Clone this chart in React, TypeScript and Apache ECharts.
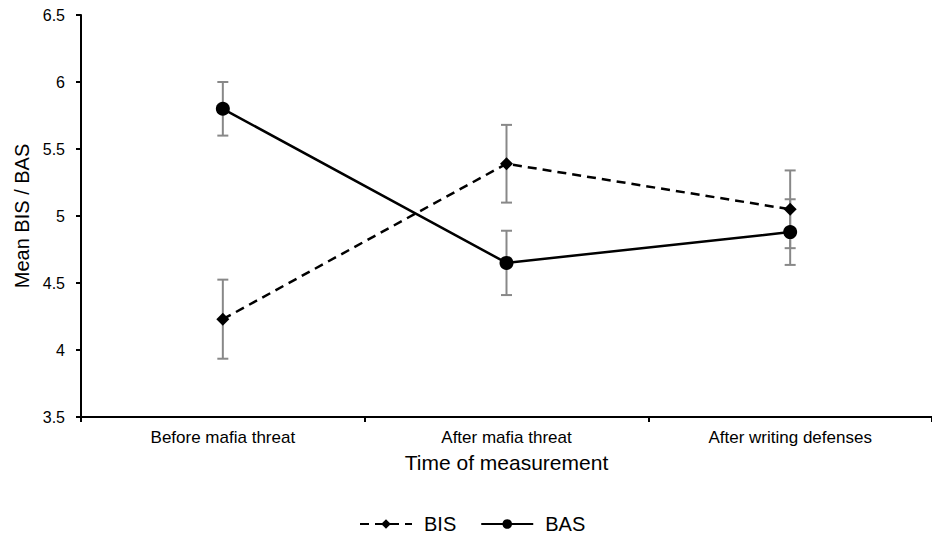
import React, { useEffect, useRef } from "react";
import * as echarts from "echarts";

const categories = ["Before mafia threat", "After mafia threat", "After writing defenses"];
const bisMeans = [4.23, 5.39, 5.05];
const bisErr = [0.295, 0.29, 0.29];
const basMeans = [5.8, 4.65, 4.88];
const basErr = [0.2, 0.24, 0.245];
const yTicks = { min: 3.5, max: 6.5, interval: 0.5 };

const FONT = "Liberation Sans, Arial, sans-serif";

function errorSeries(means: number[], errs: number[]) {
  return {
    type: "custom",
    silent: true,
    z: 1,
    data: means.map((m, i) => [i, m - errs[i], m + errs[i]]),
    renderItem: (params: any, api: any) => {
      const x = api.value(0);
      const lo = api.coord([x, api.value(1)]);
      const hi = api.coord([x, api.value(2)]);
      const hw = 5.5;
      const style = { stroke: "#888888", lineWidth: 2 };
      return {
        type: "group",
        children: [
          { type: "line", shape: { x1: lo[0], y1: lo[1], x2: hi[0], y2: hi[1] }, style },
          { type: "line", shape: { x1: lo[0] - hw, y1: lo[1], x2: lo[0] + hw, y2: lo[1] }, style },
          { type: "line", shape: { x1: hi[0] - hw, y1: hi[1], x2: hi[0] + hw, y2: hi[1] }, style },
        ],
      };
    },
  };
}

export default function App() {
  const ref = useRef<HTMLDivElement>(null);
  useEffect(() => {
    if (!ref.current) return;
    const chart = echarts.init(ref.current, null, { renderer: "svg" });
    chart.setOption({
      animation: false,
      backgroundColor: "#ffffff",
      textStyle: { fontFamily: FONT, color: "#000" },
      grid: { left: 81, top: 15, width: 858, height: 402 },
      legend: {
        data: ["BIS", "BAS"],
        left: 354,
        top: 509,
        itemWidth: 52,
        itemHeight: 12,
        itemGap: 24,
        textStyle: { fontSize: 20, color: "#000", fontFamily: FONT, padding: [0, 0, 0, 7] },
      },
      xAxis: {
        type: "category",
        data: categories,
        boundaryGap: true,
        name: "Time of measurement",
        nameLocation: "middle",
        nameGap: 35,
        nameTextStyle: { fontSize: 21, color: "#000", fontFamily: FONT },
        axisLine: { lineStyle: { color: "#000", width: 2 } },
        axisTick: { show: true, length: 5, inside: false, lineStyle: { color: "#000", width: 2 } },
        axisLabel: { fontSize: 17, color: "#000", margin: 12, fontFamily: FONT },
        splitLine: { show: false },
      },
      yAxis: {
        type: "value",
        min: yTicks.min,
        max: yTicks.max,
        interval: yTicks.interval,
        name: "Mean BIS / BAS",
        nameLocation: "middle",
        nameGap: 49,
        nameTextStyle: { fontSize: 20, color: "#000", fontFamily: FONT },
        axisLine: { show: true, lineStyle: { color: "#000", width: 2 } },
        axisTick: { show: true, length: 5, lineStyle: { color: "#000", width: 2 } },
        axisLabel: { fontSize: 16, color: "#000", margin: 16, fontFamily: FONT },
        splitLine: { show: false },
      },
      series: [
        errorSeries(bisMeans, bisErr),
        errorSeries(basMeans, basErr),
        {
          name: "BIS",
          type: "line",
          z: 3,
          data: bisMeans,
          symbol: "diamond",
          symbolSize: 13,
          itemStyle: { color: "#000" },
          lineStyle: { color: "#000", width: 2.5, type: [9, 6] },
        },
        {
          name: "BAS",
          type: "line",
          z: 3,
          data: basMeans,
          symbol: "circle",
          symbolSize: 14,
          itemStyle: { color: "#000" },
          lineStyle: { color: "#000", width: 2.5 },
        },
      ],
    });
    return () => chart.dispose();
  }, []);
  return (
    <div
      ref={ref}
      style={{ position: "absolute", left: 0, top: 0, width: 932, height: 536 }}
    />
  );
}
